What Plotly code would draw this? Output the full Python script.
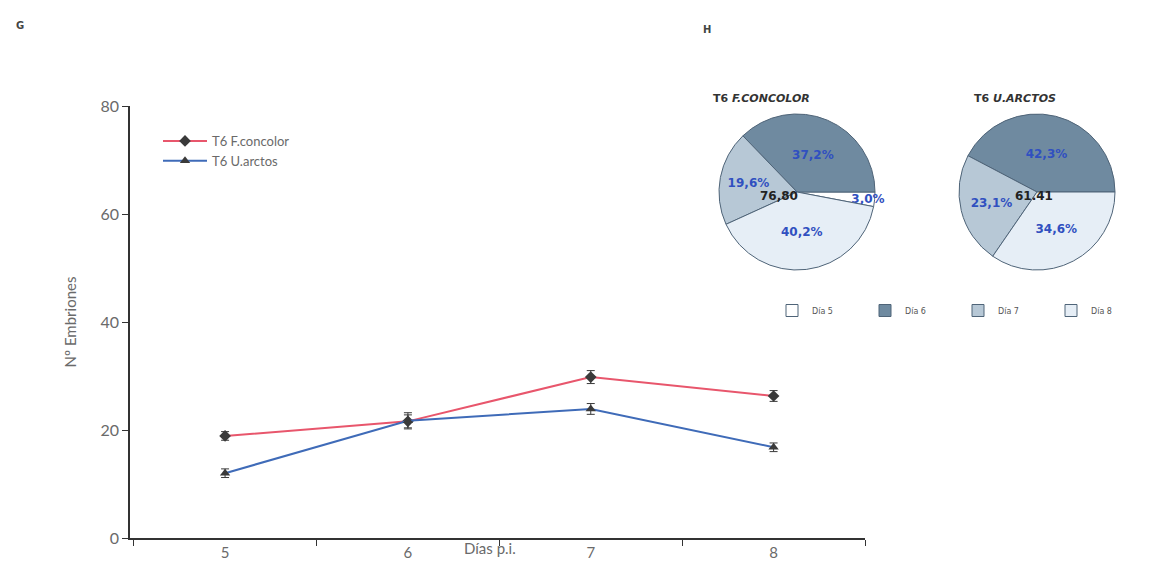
import plotly.graph_objects as go

# ---- data ----
days = [5, 6, 7, 8]
fconcolor = [18.9, 21.6, 29.8, 26.3]
fconcolor_err = [0.8, 1.2, 1.2, 1.0]
uarctos = [12.0, 21.7, 23.9, 16.8]
uarctos_err = [0.8, 1.5, 1.0, 0.8]

pie_labels = ["Día 5", "Día 6", "Día 7", "Día 8"]
pie_fconcolor = [3.0, 37.2, 19.6, 40.2]
pie_uarctos = [0.0, 42.3, 23.1, 34.6]
pie_totals = ["76,80", "61.41"]
pie_titles = ["T6 <i>F.CONCOLOR</i>", "T6 <i>U.ARCTOS</i>"]
pie_colors = ["#ffffff", "#6f8aa0", "#b7c8d6", "#e6eef6"]

W, H = 1153, 584
FONT = "Lato"
GREY = "#6a6a6a"

def px(x):
    return x / W

def py(y):
    return 1 - y / H

def pct_text(vals):
    return [("" if v == 0 else f"{v:.1f}%".replace(".", ",")) for v in vals]

fig = go.Figure()

fig.add_trace(go.Scatter(
    x=days, y=fconcolor, name="T6 F.concolor", mode="lines+markers",
    line=dict(color="#e8566c", width=2),
    marker=dict(symbol="diamond", size=9, color="#3a3a3a"),
    error_y=dict(type="data", array=fconcolor_err, color="#3a3a3a", thickness=1, width=4),
))
fig.add_trace(go.Scatter(
    x=days, y=uarctos, name="T6 U.arctos", mode="lines+markers",
    line=dict(color="#3f6bb8", width=2),
    marker=dict(symbol="triangle-up", size=9, color="#3a3a3a"),
    error_y=dict(type="data", array=uarctos_err, color="#3a3a3a", thickness=1, width=4),
))

pie_centers = [(797, 192), (1037, 192)]
title_x = [812, 1058]
total_x = [800, 1055]
R = 78
for i, (vals, (cx, cy)) in enumerate(zip([pie_fconcolor, pie_uarctos], pie_centers)):
    fig.add_trace(go.Pie(
        labels=pie_labels, values=vals, sort=False, direction="counterclockwise",
        rotation=90, legend="legend2", showlegend=(i == 0),
        marker=dict(colors=pie_colors, line=dict(color="#4f6478", width=1)),
        text=pct_text(vals), texttemplate="%{text}", textposition="inside",
        insidetextorientation="horizontal",
        textfont=dict(family="DejaVu Sans", size=12, color="#3050c0", weight="bold"),
        domain=dict(x=[px(cx - R), px(cx + R)], y=[py(cy + R), py(cy - R)]),
        hoverinfo="label+percent",
    ))
    fig.add_annotation(x=px(total_x[i]), y=py(cy + 4), xref="paper", yref="paper",
                       text=f"<b>{pie_totals[i]}</b>", showarrow=False,
                       font=dict(family="DejaVu Sans", size=12, color="#222"))
    fig.add_annotation(x=px(title_x[i]), y=py(90), xref="paper", yref="paper",
                       text=f"<b>{pie_titles[i]}</b>", showarrow=False,
                       font=dict(family="DejaVu Sans", size=11, color="#333"))

# panel letters
fig.add_annotation(x=px(14), y=py(18), xref="paper", yref="paper", text="<b>G</b>",
                   showarrow=False, font=dict(family="DejaVu Sans", size=10, color="#444"))
fig.add_annotation(x=px(707), y=py(22), xref="paper", yref="paper", text="<b>H</b>",
                   showarrow=False, font=dict(family="DejaVu Sans", size=10, color="#444"))
# x-axis title placed between ticks like reference
fig.add_annotation(x=6.45, xref="x", y=py(548), yref="paper", yanchor="middle",
                   text="Días p.i.", showarrow=False,
                   font=dict(family=FONT, size=15, color=GREY))

fig.update_layout(
    width=W, height=H, margin=dict(l=0, r=0, t=0, b=0, autoexpand=False),
    plot_bgcolor="white", paper_bgcolor="white",
    font=dict(family=FONT, color=GREY),
    uniformtext=dict(mode="show", minsize=11),
    xaxis=dict(domain=[px(130), px(865)], range=[4.48, 8.5], automargin=False,
               tickvals=days, ticktext=[str(d) for d in days], ticks="",
               ticklabelstandoff=0,
               minor=dict(tickvals=[4.5, 5.5, 6.5, 7.5, 8.5], ticks="outside",
                          ticklen=6, tickcolor="#333"),
               showline=True, linecolor="#333", linewidth=1.5, showgrid=False,
               zeroline=False, tickfont=dict(size=15, color=GREY)),
    yaxis=dict(domain=[py(538), py(106)], range=[0, 80], tickvals=[0, 20, 40, 60, 80],
               automargin=False,
               ticks="outside", ticklen=6, tickcolor="#333",
               showline=True, linecolor="#333", linewidth=1.5, showgrid=False,
               zeroline=False, tickfont=dict(size=16, color=GREY),
               title=dict(text="Nº Embriones", font=dict(size=15, color=GREY), standoff=20)),
    legend=dict(x=px(158), y=py(126), xanchor="left", yanchor="top",
                bgcolor="rgba(0,0,0,0)", font=dict(size=13, color=GREY),
                tracegroupgap=2, itemwidth=44),
    legend2=dict(orientation="h", x=px(772), y=py(296), xanchor="left", yanchor="top",
                 entrywidth=48, entrywidthmode="pixels",
                 bgcolor="rgba(0,0,0,0)", font=dict(family="DejaVu Sans", size=8, color="#555")),
)

fig.write_html("out.html", config={"displayModeBar": False},
               post_script="document.body.style.margin='0';document.body.style.overflow='hidden';")
